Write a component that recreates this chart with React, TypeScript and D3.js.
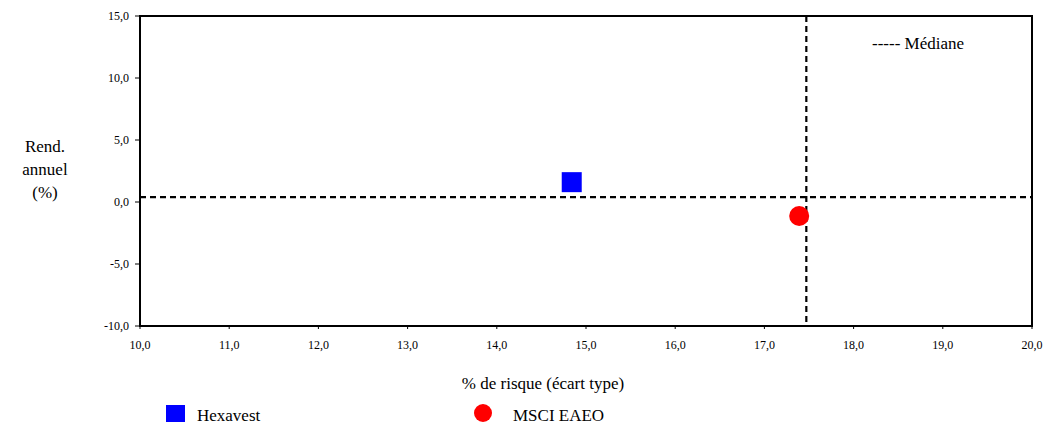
import React from "react";
import * as d3 from "d3";

const xTicks = [10, 11, 12, 13, 14, 15, 16, 17, 18, 19, 20];
const yTicks = [-10, -5, 0, 5, 10, 15];
const seriesNames = ["Hexavest", "MSCI EAEO"];
const seriesRisk = [14.84, 17.39];
const seriesReturn = [1.6, -1.13];
const seriesColors = ["#0000ff", "#ff0000"];
const medianRisk = 17.47;
const medianReturn = 0.4;

const fmt = (v: number) => v.toFixed(1).replace(".", ",");

export default function App() {
  const W = 1045, H = 427;
  const L = 140, R = 1032, T = 16, B = 326;
  const x = d3.scaleLinear().domain([10, 20]).range([L, R]);
  const y = d3.scaleLinear().domain([-10, 15]).range([B, T]);
  const ts: React.CSSProperties = { fontFamily: '"Liberation Serif", "Times New Roman", Tinos' };
  return (
    <svg width={W} height={H} style={{ position: "absolute", left: 0, top: 0 }}>
      <rect x={0} y={0} width={W} height={H} fill="#fff" />
      <line x1={L} x2={R} y1={y(medianReturn)} y2={y(medianReturn)} stroke="#000" strokeWidth={2.2} strokeDasharray="6,4" />
      <line x1={x(medianRisk)} x2={x(medianRisk)} y1={T} y2={B} stroke="#000" strokeWidth={2.2} strokeDasharray="6,4" />
      <rect x={L} y={T} width={R - L} height={B - T} fill="none" stroke="#000" strokeWidth={2} />
      {yTicks.map((t) => (
        <g key={"y" + t}>
          <line x1={L - 5} x2={L} y1={y(t)} y2={y(t)} stroke="#000" strokeWidth={1} />
          <text x={L - 11} y={y(t)} dy="0.35em" textAnchor="end" fontSize={12} style={ts}>{fmt(t)}</text>
        </g>
      ))}
      {xTicks.map((t) => (
        <g key={"x" + t}>
          <line x1={x(t)} x2={x(t)} y1={B} y2={B + 3} stroke="#000" strokeWidth={1} />
          <text x={x(t)} y={B + 23} textAnchor="middle" fontSize={12} style={ts}>{fmt(t)}</text>
        </g>
      ))}
      <text x={543} y={389} textAnchor="middle" fontSize={17} style={ts}>% de risque (écart type)</text>
      <text x={45} y={152} textAnchor="middle" fontSize={17} style={ts}>Rend.</text>
      <text x={45} y={175} textAnchor="middle" fontSize={17} style={ts}>annuel</text>
      <text x={45} y={198} textAnchor="middle" fontSize={17} style={ts}>(%)</text>
      <text x={872} y={49} fontSize={17} style={ts}>----- Médiane</text>
      <rect x={x(seriesRisk[0]) - 10} y={y(seriesReturn[0]) - 10} width={20} height={20} fill={seriesColors[0]} />
      <circle cx={x(seriesRisk[1])} cy={y(seriesReturn[1])} r={10} fill={seriesColors[1]} />
      <rect x={166} y={405} width={19} height={17} fill={seriesColors[0]} />
      <text x={197} y={421} fontSize={17} style={ts}>{seriesNames[0]}</text>
      <circle cx={483} cy={413} r={9} fill={seriesColors[1]} />
      <text x={513} y={421} fontSize={17} style={ts}>{seriesNames[1]}</text>
    </svg>
  );
}
